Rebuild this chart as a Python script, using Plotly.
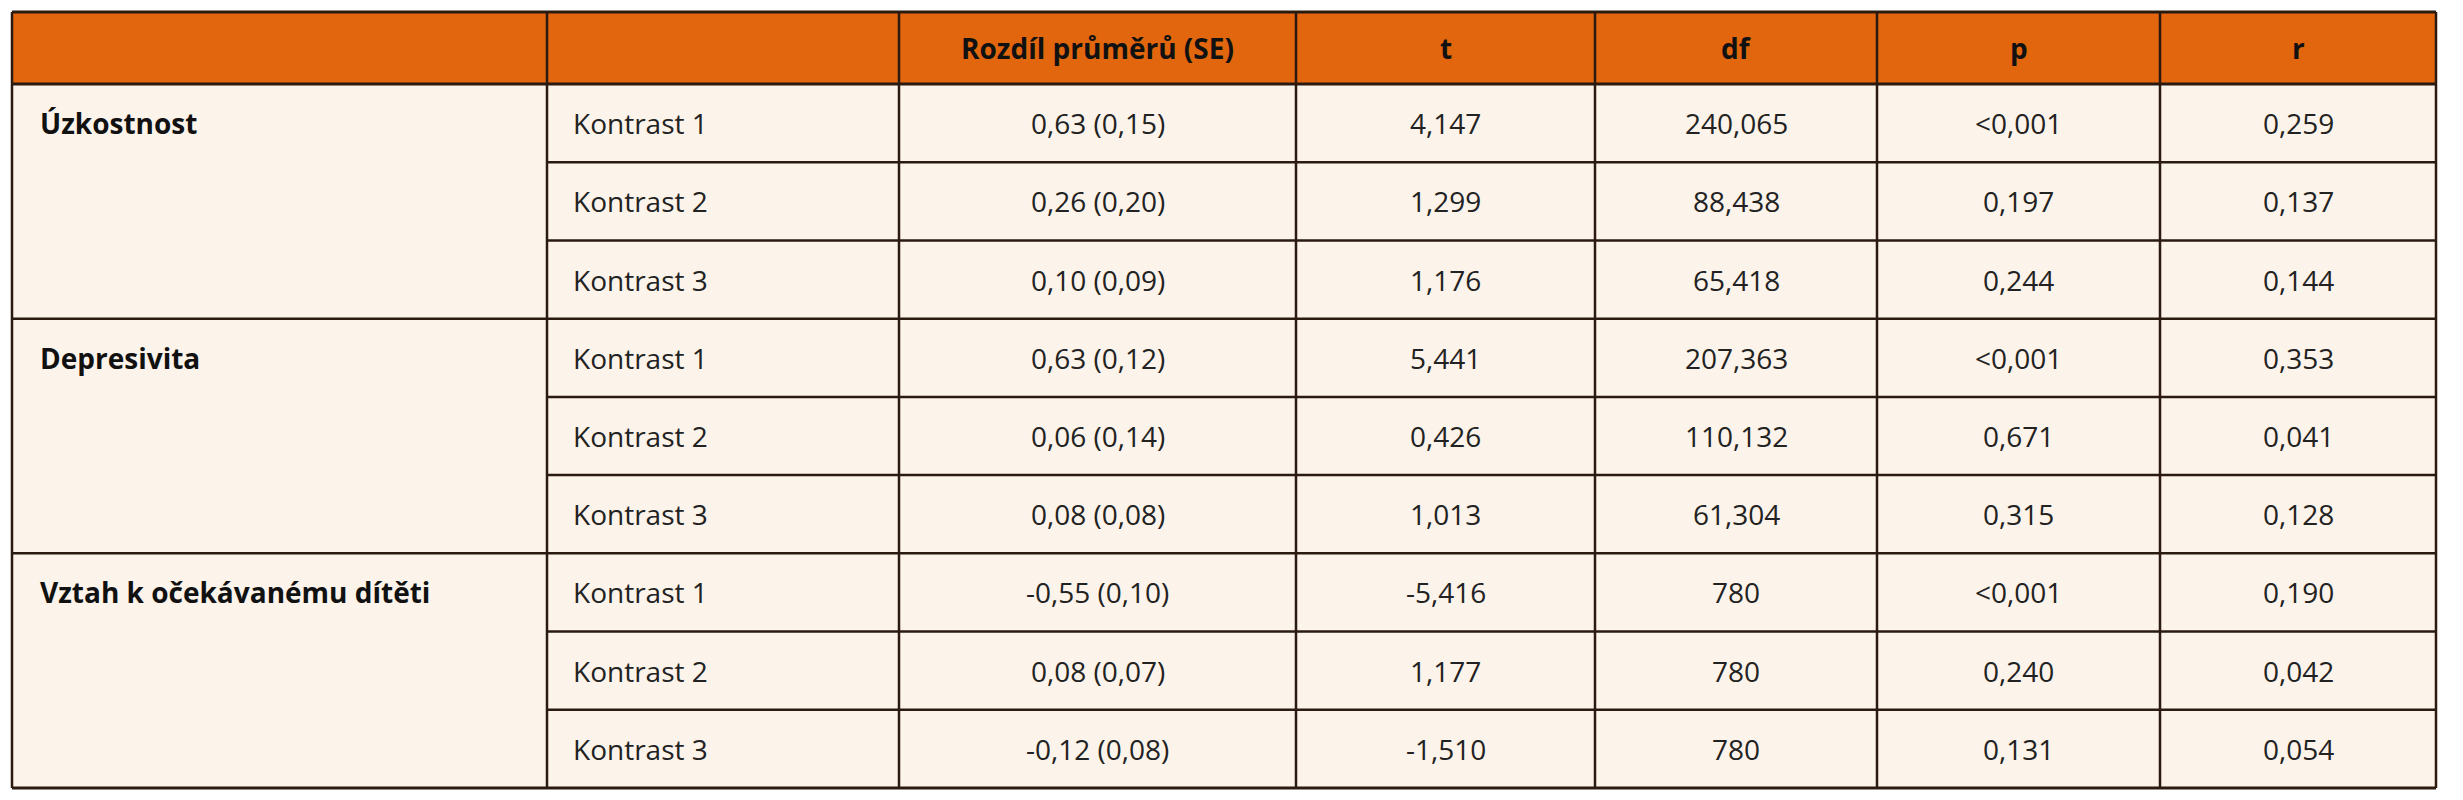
import plotly.graph_objects as go

# table content
headers = ["", "", "Rozdíl průměrů (SE)", "t", "df", "p", "r"]
groups = ["Úzkostnost", "Depresivita", "Vztah k očekávanému dítěti"]
contrasts = ["Kontrast 1", "Kontrast 2", "Kontrast 3"]
diff_se = ["0,63 (0,15)", "0,26 (0,20)", "0,10 (0,09)",
           "0,63 (0,12)", "0,06 (0,14)", "0,08 (0,08)",
           "-0,55 (0,10)", "0,08 (0,07)", "-0,12 (0,08)"]
t_vals = ["4,147", "1,299", "1,176", "5,441", "0,426", "1,013", "-5,416", "1,177", "-1,510"]
df_vals = ["240,065", "88,438", "65,418", "207,363", "110,132", "61,304", "780", "780", "780"]
p_vals = ["<0,001", "0,197", "0,244", "<0,001", "0,671", "0,315", "<0,001", "0,240", "0,131"]
r_vals = ["0,259", "0,137", "0,144", "0,353", "0,041", "0,128", "0,190", "0,042", "0,054"]

W, H = 2463, 800
col_x = [4, 539, 891, 1288, 1587, 1869, 2152, 2428]
top, head_bot, bottom = 4, 76, 780
n_rows = len(diff_se)
row_h = (bottom - head_bot) / n_rows
line_c = "#2b1a10"
font = "Open Sans"

fig = go.Figure()
shapes = []
ann = []

# backgrounds
shapes.append(dict(type="rect", x0=col_x[0], x1=col_x[-1], y0=top, y1=head_bot,
                   fillcolor="#e2660e", line_width=0, layer="below"))
shapes.append(dict(type="rect", x0=col_x[0], x1=col_x[-1], y0=head_bot, y1=bottom,
                   fillcolor="#fcf3ea", line_width=0, layer="below"))

def hline(x0, x1, y, w=2.5):
    shapes.append(dict(type="line", x0=x0, x1=x1, y0=y, y1=y, line=dict(color=line_c, width=w)))

def vline(x, y0, y1, w=2.5):
    shapes.append(dict(type="line", x0=x, x1=x, y0=y0, y1=y1, line=dict(color=line_c, width=w)))

hline(col_x[0], col_x[-1], top, 3)
hline(col_x[0], col_x[-1], head_bot, 3)
hline(col_x[0], col_x[-1], bottom, 3)
for x in col_x:
    vline(x, top, bottom)
for i in range(1, n_rows):
    y = head_bot + i * row_h
    x0 = col_x[0] if i % 3 == 0 else col_x[1]
    hline(x0, col_x[-1], y)

# header text
for j, h in enumerate(headers):
    if h:
        ann.append(dict(x=(col_x[j] + col_x[j + 1]) / 2, y=(top + head_bot) / 2, text="<b>%s</b>" % h,
                        showarrow=False, font=dict(size=28, color="#111", family=font)))

# group labels
for g, name in enumerate(groups):
    ann.append(dict(x=col_x[0] + 26, y=head_bot + g * 3 * row_h + row_h / 2, text="<b>%s</b>" % name,
                    xanchor="left", showarrow=False, font=dict(size=28, color="#111", family=font)))

# body rows
cols = [diff_se, t_vals, df_vals, p_vals, r_vals]
for i in range(n_rows):
    yc = head_bot + i * row_h + row_h / 2
    ann.append(dict(x=col_x[1] + 24, y=yc, text=contrasts[i % 3], xanchor="left",
                    showarrow=False, font=dict(size=28, color="#222", family=font)))
    for k, col in enumerate(cols):
        j = k + 2
        ann.append(dict(x=(col_x[j] + col_x[j + 1]) / 2, y=yc, text=col[i].replace("<", "&lt;"),
                        showarrow=False, font=dict(size=28, color="#222", family=font)))

fig.update_layout(width=W, height=H, margin=dict(l=0, r=0, t=0, b=0),
                  paper_bgcolor="white", plot_bgcolor="white",
                  shapes=shapes, annotations=ann, showlegend=False)
fig.update_xaxes(range=[0, W], visible=False, fixedrange=True)
fig.update_yaxes(range=[H, 0], visible=False, fixedrange=True)
fig.write_html("out.html")
